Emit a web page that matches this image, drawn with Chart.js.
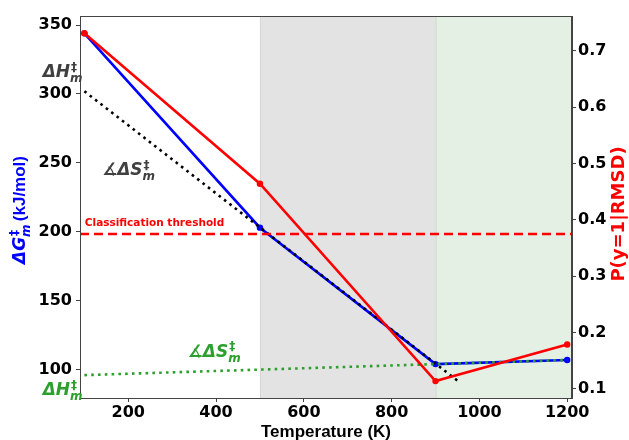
<!DOCTYPE html>
<html>
<head>
<meta charset="utf-8">
<script src="https://cdn.jsdelivr.net/npm/chart.js@4.4.1/dist/chart.umd.min.js"></script>
<style>
  html, body { margin: 0; padding: 0; background: #fff; }
  #wrap { width: 629px; height: 440px; }
</style>
</head>
<body>
<div id="wrap"><canvas id="chart" width="629" height="440"></canvas></div>
<script>
// Simulation temperatures (K)
const temperatures = [100, 500, 900, 1200];
// Free energy of activation, left axis (kJ/mol)
const deltaG = [344, 203, 104, 107];
// Classifier probability, right axis
const probability = [0.731, 0.464, 0.114, 0.179];

// Dotted fit lines (left axis)
const blackFitT = [100, 950];
const blackFitG = [302, 92];
const greenFitT = [100, 1200];
const greenFitG = [96, 107];

// Threshold on the right axis
const thresholdP = 0.375;

// Shaded temperature windows
const grayRegion = [500, 900];
const greenRegion = [900, 1211];

// Tick labels
const xTicks = [200, 400, 600, 800, 1000, 1200];
const leftTicks = [100, 150, 200, 250, 300, 350];
const rightTicks = [0.1, 0.2, 0.3, 0.4, 0.5, 0.6, 0.7];

const toPoints = (xs, ys) => xs.map((x, i) => ({x: x, y: ys[i]}));

const tickFont = {family: '"DejaVu Sans"', size: 16, weight: 'bold'};
const axisColor = '#444';

// Draws labels like ΔH‡m with stacked super/subscript
function mathText(ctx, text, x, y, size, color) {
    ctx.fillStyle = color;
    ctx.textAlign = 'left';
    ctx.textBaseline = 'alphabetic';
    ctx.font = `italic bold ${size}px "DejaVu Sans"`;
    ctx.fillText(text, x, y);
    const w = ctx.measureText(text).width;
    const small = Math.round(size * 0.72);
    ctx.font = `bold ${small}px "DejaVu Sans"`;
    ctx.fillText('‡', x + w + 1, y - size * 0.4);
    const w1 = ctx.measureText('‡').width;
    ctx.font = `italic bold ${small}px "DejaVu Sans"`;
    ctx.fillText('m', x + w, y + size * 0.27);
    const w2 = ctx.measureText('m').width;
    return w + Math.max(w1 + 1, w2);
}

const decorPlugin = {
    id: 'decor',
    beforeDatasetsDraw(chart) {
        const {ctx, chartArea, scales} = chart;
        const x = scales.x;
        ctx.save();
        const g0 = x.getPixelForValue(grayRegion[0]);
        const g1 = x.getPixelForValue(grayRegion[1]);
        ctx.fillStyle = '#e3e3e3';
        ctx.fillRect(g0, chartArea.top, g1 - g0, chartArea.bottom - chartArea.top);
        const n0 = x.getPixelForValue(greenRegion[0]);
        const n1 = x.getPixelForValue(greenRegion[1]);
        ctx.fillStyle = '#e4f0e4';
        ctx.fillRect(n0, chartArea.top, n1 - n0, chartArea.bottom - chartArea.top);
        ctx.strokeStyle = '#d6d6d6';
        ctx.lineWidth = 1;
        ctx.beginPath();
        ctx.moveTo(g0 + 0.5, chartArea.top);
        ctx.lineTo(g0 + 0.5, chartArea.bottom);
        ctx.stroke();
        ctx.strokeStyle = '#c4d6c4';
        ctx.beginPath();
        ctx.moveTo(n0 + 0.5, chartArea.top);
        ctx.lineTo(n0 + 0.5, chartArea.bottom);
        ctx.stroke();
        ctx.restore();
    },
    afterDraw(chart) {
        const {ctx, chartArea, scales} = chart;
        const x = scales.x, yl = scales.yL, yr = scales.yR;
        ctx.save();

        // frame
        ctx.strokeStyle = axisColor;
        ctx.lineWidth = 1;
        ctx.strokeRect(chartArea.left + 0.5, chartArea.top + 0.5,
            chartArea.right - chartArea.left - 1, chartArea.bottom - chartArea.top);

        // threshold text
        ctx.fillStyle = '#ff0000';
        ctx.font = 'bold 10.5px "DejaVu Sans"';
        ctx.textAlign = 'left';
        ctx.textBaseline = 'alphabetic';
        ctx.fillText('Classification threshold', x.getPixelForValue(101), yr.getPixelForValue(0.389));

        // annotations
        mathText(ctx, 'ΔH', x.getPixelForValue(5), yl.getPixelForValue(312), 17, '#404040');
        mathText(ctx, '∡ΔS', x.getPixelForValue(140), yl.getPixelForValue(241), 17, '#404040');
        mathText(ctx, '∡ΔS', x.getPixelForValue(335), yl.getPixelForValue(109), 17, '#2ca02c');
        mathText(ctx, 'ΔH', x.getPixelForValue(5), yl.getPixelForValue(81.3), 17, '#2ca02c');

        // x axis title
        ctx.fillStyle = '#000';
        ctx.font = 'bold 17px "Liberation Sans"';
        ctx.textAlign = 'center';
        ctx.fillText('Temperature (K)', (chartArea.left + chartArea.right) / 2, 437);

        // left axis title
        ctx.save();
        ctx.translate(25, 210);
        ctx.rotate(-Math.PI / 2);
        ctx.font = 'bold 17px "Liberation Sans"';
        const unit = ' (kJ/mol)';
        const unitW = ctx.measureText(unit).width;
        ctx.font = 'italic bold 17px "DejaVu Sans"';
        const mathW = ctx.measureText('ΔG').width + 11;
        const start = -(unitW + mathW) / 2;
        mathText(ctx, 'ΔG', start, 0, 17, '#0000ff');
        ctx.font = 'bold 17px "Liberation Sans"';
        ctx.textAlign = 'left';
        ctx.fillText(unit, start + mathW, 0);
        ctx.restore();

        // right axis title
        ctx.save();
        ctx.translate(624, 214);
        ctx.rotate(-Math.PI / 2);
        ctx.fillStyle = '#ff0000';
        ctx.font = 'bold 18px "DejaVu Sans"';
        ctx.textAlign = 'center';
        ctx.fillText('P(y=1|RMSD)', 0, 0);
        ctx.restore();

        ctx.restore();
    }
};

const axisGrid = {drawOnChartArea: false, drawTicks: true, tickLength: 4, color: axisColor};

new Chart(document.getElementById('chart'), {
    type: 'line',
    data: {
        datasets: [
            {
                label: 'P(y=1|RMSD)',
                data: toPoints(temperatures, probability),
                yAxisID: 'yR',
                borderColor: '#ff0000',
                backgroundColor: '#ff0000',
                borderWidth: 2.6,
                pointRadius: 3.2,
                pointBorderWidth: 0
            },
            {
                label: 'Classification threshold',
                data: [{x: 90, y: thresholdP}, {x: 1211, y: thresholdP}],
                yAxisID: 'yR',
                borderColor: '#ff0000',
                borderWidth: 2.5,
                borderDash: [9, 5],
                pointRadius: 0
            },
            {
                label: 'green fit',
                data: toPoints(greenFitT, greenFitG),
                yAxisID: 'yL',
                borderColor: '#2ca02c',
                borderWidth: 2.6,
                borderDash: [2.6, 4.2],
                pointRadius: 0
            },
            {
                label: 'black fit',
                data: toPoints(blackFitT, blackFitG),
                yAxisID: 'yL',
                borderColor: '#000000',
                borderWidth: 2.6,
                borderDash: [2.6, 4.2],
                pointRadius: 0
            },
            {
                label: 'ΔG',
                data: toPoints(temperatures, deltaG),
                yAxisID: 'yL',
                borderColor: '#0000ff',
                backgroundColor: '#0000ff',
                borderWidth: 2.6,
                pointRadius: 3.2,
                pointBorderWidth: 0
            }
        ]
    },
    options: {
        responsive: false,
        animation: false,
        layout: {padding: {top: 16, left: 0, right: 0, bottom: 0}},
        plugins: {
            legend: {display: false},
            tooltip: {enabled: false}
        },
        scales: {
            x: {
                type: 'linear',
                min: 90,
                max: 1211,
                afterBuildTicks: s => { s.ticks = xTicks.map(v => ({value: v})); },
                afterFit: s => { s.height = 42; },
                ticks: {font: tickFont, color: '#000', padding: 1, callback: v => String(v)},
                grid: axisGrid,
                border: {color: axisColor}
            },
            yL: {
                type: 'linear',
                position: 'left',
                min: 79.4,
                max: 356.6,
                afterBuildTicks: s => { s.ticks = leftTicks.map(v => ({value: v})); },
                afterFit: s => { s.width = 80; },
                ticks: {font: tickFont, color: '#000', padding: 4, callback: v => String(v)},
                grid: axisGrid,
                border: {color: axisColor}
            },
            yR: {
                type: 'linear',
                position: 'right',
                min: 0.084,
                max: 0.7615,
                afterBuildTicks: s => { s.ticks = rightTicks.map(v => ({value: v})); },
                afterFit: s => { s.width = 57; },
                ticks: {font: tickFont, color: '#000', padding: 2, callback: v => v.toFixed(1)},
                grid: axisGrid,
                border: {color: axisColor}
            }
        }
    },
    plugins: [decorPlugin]
});
</script>
</body>
</html>
